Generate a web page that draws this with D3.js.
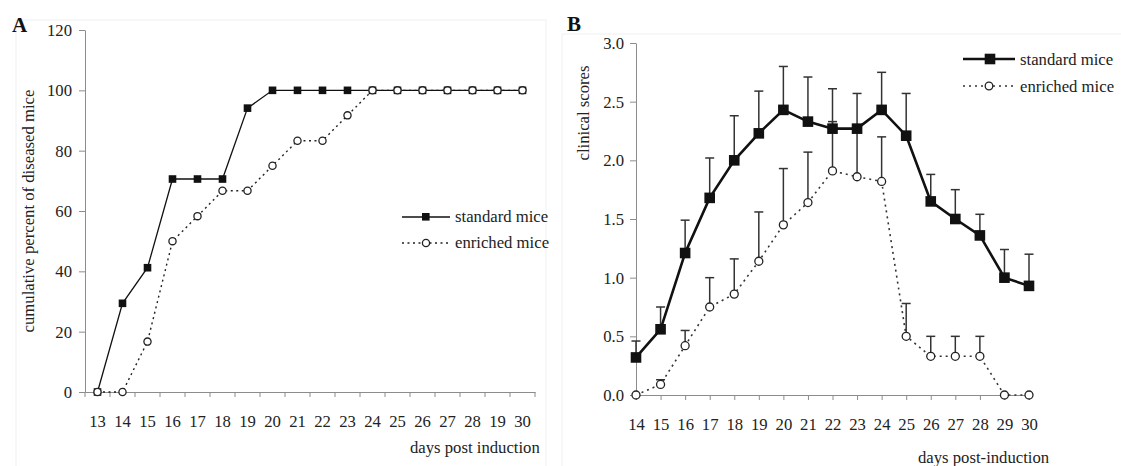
<!DOCTYPE html>
<html>
<head>
<meta charset="utf-8">
<script src="https://cdn.jsdelivr.net/npm/d3@7"></script>
<style>
  body { margin: 0; background: #fff; }
  text { font-family: "Liberation Serif", "Times New Roman", serif; fill: #222; }
</style>
</head>
<body>
<svg id="chart" width="1121" height="466"></svg>
<script>
// Panel A: cumulative percent of diseased mice
const daysA = [13, 14, 15, 16, 17, 18, 19, 20, 21, 22, 23, 24, 25, 26, 27, 28, 29, 30];
const tickLabelsA = ['13', '14', '15', '16', '17', '18', '19', '20', '21', '22', '23', '24', '25', '26', '27', '28', '19', '30'];
const standardA = [0, 29.4, 41.2, 70.6, 70.6, 70.6, 94.1, 100, 100, 100, 100, 100, 100, 100, 100, 100, 100, 100];
const enrichedA = [0, 0, 16.7, 50, 58.3, 66.7, 66.7, 75, 83.3, 83.3, 91.7, 100, 100, 100, 100, 100, 100, 100];
const yTicksA = [0, 20, 40, 60, 80, 100, 120];

// Panel B: clinical scores (mean and top of error bar)
const daysB = [14, 15, 16, 17, 18, 19, 20, 21, 22, 23, 24, 25, 26, 27, 28, 29, 30];
const standardB = [0.32, 0.56, 1.21, 1.68, 2.0, 2.23, 2.43, 2.33, 2.27, 2.27, 2.43, 2.21, 1.65, 1.5, 1.36, 1.0, 0.93];
const standardBTop = [0.46, 0.75, 1.49, 2.02, 2.38, 2.59, 2.80, 2.71, 2.61, 2.57, 2.75, 2.57, 1.88, 1.75, 1.54, 1.24, 1.20];
const enrichedB = [0, 0.09, 0.42, 0.75, 0.86, 1.14, 1.45, 1.64, 1.91, 1.86, 1.82, 0.5, 0.33, 0.33, 0.33, 0, 0];
const enrichedBTop = [null, 0.13, 0.55, 1.0, 1.16, 1.56, 1.93, 2.07, 2.33, 2.25, 2.20, 0.78, 0.5, 0.5, 0.5, null, null];
const yTicksB = [0, 0.5, 1.0, 1.5, 2.0, 2.5, 3.0];

const series = ['standard mice', 'enriched mice'];

const svg = d3.select('#chart');
const axisColor = '#8c8c8c';
const fontSize = '16.7px';

// faint frames round the two panels
svg.append('rect').attr('x', 16).attr('y', 20).attr('width', 530).attr('height', 460)
  .attr('fill', 'none').attr('stroke', '#f0f0f0');
svg.append('rect').attr('x', 562).attr('y', 34).attr('width', 570).attr('height', 440)
  .attr('fill', 'none').attr('stroke', '#f0f0f0');

function styleAxis(g) {
  g.attr('font-family', '"Liberation Serif", serif');
  g.select('.domain').attr('stroke', axisColor);
  g.selectAll('.tick line').attr('stroke', axisColor);
  g.selectAll('.tick text').attr('font-size', fontSize).attr('fill', '#222');
}

// ---------- Panel A ----------
const xA = d3.scaleBand(daysA, [85, 535]);
const yA = d3.scaleLinear([0, 120], [392, 30]);

const gA = svg.append('g');

gA.append('g').attr('transform', 'translate(85,0)')
  .call(d3.axisLeft(yA).tickValues(yTicksA).tickSize(6).tickPadding(7).tickSizeOuter(0))
  .call(styleAxis);

gA.append('g').attr('transform', 'translate(0,392)')
  .call(d3.axisBottom(xA).tickSize(0).tickPadding(23).tickSizeOuter(0)
    .tickFormat(d => tickLabelsA[daysA.indexOf(d)]))
  .call(styleAxis);
// tick marks sit on the band edges
gA.append('g').selectAll('line')
  .data(daysA.concat([null]))
  .join('line')
  .attr('x1', d => d === null ? xA.range()[1] : xA(d))
  .attr('x2', d => d === null ? xA.range()[1] : xA(d))
  .attr('y1', 392).attr('y2', 397)
  .attr('stroke', axisColor);

const cxA = d => xA(d) + xA.bandwidth() / 2;

const lineA = d3.line().x((d, i) => cxA(daysA[i])).y(d => yA(d));

gA.append('path').datum(enrichedA).attr('d', lineA)
  .attr('fill', 'none').attr('stroke', '#222').attr('stroke-width', 1.4)
  .attr('stroke-dasharray', '2,3.5');
gA.append('path').datum(standardA).attr('d', lineA)
  .attr('fill', 'none').attr('stroke', '#111').attr('stroke-width', 1.3);

gA.append('g').selectAll('rect').data(standardA).join('rect')
  .attr('x', (d, i) => cxA(daysA[i]) - 3.8).attr('y', d => yA(d) - 3.8)
  .attr('width', 7.6).attr('height', 7.6).attr('fill', '#111');
gA.append('g').selectAll('circle').data(enrichedA).join('circle')
  .attr('cx', (d, i) => cxA(daysA[i])).attr('cy', d => yA(d)).attr('r', 3.6)
  .attr('fill', '#fff').attr('stroke', '#222').attr('stroke-width', 1.3);

gA.append('text').attr('x', 12).attr('y', 32).text('A')
  .attr('font-size', '21px').attr('font-weight', 'bold').style('fill', '#111');
gA.append('text').attr('transform', 'translate(34,211) rotate(-90)')
  .attr('text-anchor', 'middle').attr('font-size', fontSize)
  .text('cumulative percent of diseased mice');
gA.append('text').attr('x', 410).attr('y', 453).attr('font-size', fontSize)
  .text('days post induction');

// legend A
const legA = gA.append('g');
legA.append('line').attr('x1', 402).attr('x2', 450).attr('y1', 217).attr('y2', 217)
  .attr('stroke', '#111').attr('stroke-width', 1.3);
legA.append('rect').attr('x', 422).attr('y', 213).attr('width', 7.6).attr('height', 7.6).attr('fill', '#111');
legA.append('line').attr('x1', 402).attr('x2', 450).attr('y1', 243).attr('y2', 243)
  .attr('stroke', '#222').attr('stroke-width', 1.4).attr('stroke-dasharray', '2,3.5');
legA.append('circle').attr('cx', 426).attr('cy', 243).attr('r', 3.6)
  .attr('fill', '#fff').attr('stroke', '#222').attr('stroke-width', 1.3);
legA.selectAll('text.lab').data(series).join('text').attr('class', 'lab')
  .attr('x', 455).attr('y', (d, i) => 222 + i * 26).attr('font-size', fontSize).text(d => d);

// ---------- Panel B ----------
const xB = d3.scalePoint(daysB, [636, 1029]);
const yB = d3.scaleLinear([0, 3], [395, 43]);

const gB = svg.append('g');

gB.append('g').attr('transform', 'translate(636,0)')
  .call(d3.axisLeft(yB).tickValues(yTicksB).tickFormat(d3.format('.1f'))
    .tickSize(6).tickPadding(6).tickSizeOuter(0))
  .call(styleAxis);
gB.append('g').attr('transform', 'translate(0,395)')
  .call(d3.axisBottom(xB).tickSize(5).tickPadding(18).tickSizeOuter(0))
  .call(styleAxis);

function errorBars(g, means, tops) {
  const bars = g.append('g').selectAll('g')
    .data(means.map((m, i) => ({ day: daysB[i], m: m, t: tops[i] })).filter(d => d.t !== null))
    .join('g');
  bars.append('line')
    .attr('x1', d => xB(d.day)).attr('x2', d => xB(d.day))
    .attr('y1', d => yB(d.m)).attr('y2', d => yB(d.t))
    .attr('stroke', '#333').attr('stroke-width', 1.5);
  bars.append('line')
    .attr('x1', d => xB(d.day) - 4.5).attr('x2', d => xB(d.day) + 4.5)
    .attr('y1', d => yB(d.t)).attr('y2', d => yB(d.t))
    .attr('stroke', '#333').attr('stroke-width', 1.5);
}

errorBars(gB, enrichedB, enrichedBTop);
errorBars(gB, standardB, standardBTop);

const lineB = d3.line().x((d, i) => xB(daysB[i])).y(d => yB(d));

gB.append('path').datum(enrichedB).attr('d', lineB)
  .attr('fill', 'none').attr('stroke', '#333').attr('stroke-width', 1.6)
  .attr('stroke-dasharray', '2,4');
gB.append('path').datum(standardB).attr('d', lineB)
  .attr('fill', 'none').attr('stroke', '#111').attr('stroke-width', 2.6);

gB.append('g').selectAll('circle').data(enrichedB).join('circle')
  .attr('cx', (d, i) => xB(daysB[i])).attr('cy', d => yB(d)).attr('r', 4)
  .attr('fill', '#fff').attr('stroke', '#222').attr('stroke-width', 1.3);
gB.append('g').selectAll('rect').data(standardB).join('rect')
  .attr('x', (d, i) => xB(daysB[i]) - 5.3).attr('y', d => yB(d) - 5.3)
  .attr('width', 10.6).attr('height', 10.6).attr('fill', '#111');

gB.append('text').attr('x', 567).attr('y', 31).text('B')
  .attr('font-size', '21px').attr('font-weight', 'bold').style('fill', '#111');
gB.append('text').attr('transform', 'translate(589,113) rotate(-90)')
  .attr('text-anchor', 'middle').attr('font-size', fontSize)
  .text('clinical scores');
gB.append('text').attr('x', 918).attr('y', 463).attr('font-size', fontSize)
  .text('days post-induction');

// legend B
const legB = gB.append('g');
legB.append('line').attr('x1', 963).attr('x2', 1015).attr('y1', 59).attr('y2', 59)
  .attr('stroke', '#111').attr('stroke-width', 2.6);
legB.append('rect').attr('x', 984.7).attr('y', 53.7).attr('width', 10.6).attr('height', 10.6).attr('fill', '#111');
legB.append('line').attr('x1', 963).attr('x2', 1015).attr('y1', 86).attr('y2', 86)
  .attr('stroke', '#333').attr('stroke-width', 1.6).attr('stroke-dasharray', '2,4');
legB.append('circle').attr('cx', 989).attr('cy', 86).attr('r', 3.8)
  .attr('fill', '#fff').attr('stroke', '#222').attr('stroke-width', 1.3);
legB.selectAll('text.lab').data(series).join('text').attr('class', 'lab')
  .attr('x', 1020).attr('y', (d, i) => 65 + i * 26.5).attr('font-size', fontSize).text(d => d);
</script>
</body>
</html>
